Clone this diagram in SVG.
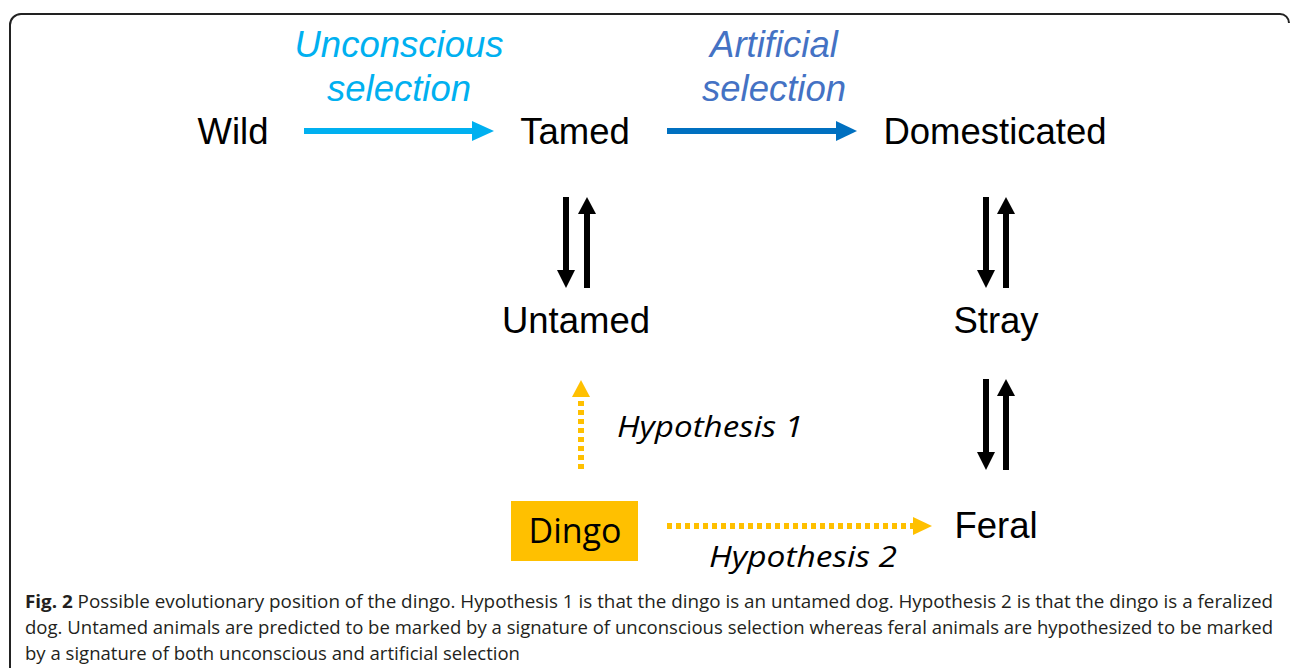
<svg xmlns="http://www.w3.org/2000/svg" width="1290" height="668" viewBox="0 0 1290 668">
<defs>
<style>
.node{font-family:"Liberation Sans",Arial,sans-serif;font-size:36.5px;fill:#000;text-anchor:middle}
.sel{font-family:"Liberation Sans",Arial,sans-serif;font-size:36.5px;font-style:italic;text-anchor:middle}
.hyp{font-family:"Open Sans",sans-serif;font-size:30px;font-style:italic;fill:#000}
.cap{font-family:"Open Sans","Liberation Sans",sans-serif;font-size:18.5px;fill:#231f20}
.blk{stroke:#000;stroke-width:6;fill:none}
.dot{stroke:#FFC000;stroke-width:6;fill:none;stroke-dasharray:5 4}
</style>
</defs>
<rect width="1290" height="668" fill="#fff"/>
<path d="M10,668 V25 A11,11 0 0 1 21,14 H1280 A9,9 0 0 1 1289,23" fill="none" stroke="#222" stroke-width="2"/>

<g id="label-unconscious">
<text class="sel" x="399" y="57" fill="#00B0F0">Unconscious</text>
<text class="sel" x="399" y="101" fill="#00B0F0">selection</text>
</g>
<g id="label-artificial">
<text class="sel" x="774" y="57" fill="#4472C4">Artificial</text>
<text class="sel" x="774" y="101" fill="#4472C4">selection</text>
</g>

<g id="node-wild"><text class="node" x="233" y="144">Wild</text></g>
<g id="node-tamed"><text class="node" x="575" y="144">Tamed</text></g>
<g id="node-domesticated"><text class="node" x="995" y="144">Domesticated</text></g>
<g id="node-untamed"><text class="node" x="576" y="333">Untamed</text></g>
<g id="node-stray"><text class="node" x="996" y="333">Stray</text></g>
<g id="node-feral"><text class="node" x="996" y="538">Feral</text></g>
<g id="node-dingo">
<rect x="511" y="501" width="127" height="60" fill="#FFC000"/>
<text x="575" y="543" font-family="'Open Sans',sans-serif" font-size="34" text-anchor="middle" fill="#000">Dingo</text>
</g>

<g id="connectors">
<line x1="304" y1="131" x2="474" y2="131" stroke="#00B0F0" stroke-width="6"/>
<polygon points="472,121 494,131 472,141" fill="#00B0F0"/>
<line x1="667" y1="131" x2="838" y2="131" stroke="#0070C0" stroke-width="6"/>
<polygon points="836,121 857,131 836,141" fill="#0070C0"/>

<line class="blk" x1="566" y1="197" x2="566" y2="272"/>
<polygon points="557,270 575,270 566,288" fill="#000"/>
<line class="blk" x1="587" y1="288" x2="587" y2="212"/>
<polygon points="578,214 596,214 587,197" fill="#000"/>

<line class="blk" x1="986" y1="197" x2="986" y2="272"/>
<polygon points="977,270 995,270 986,288" fill="#000"/>
<line class="blk" x1="1006" y1="288" x2="1006" y2="212"/>
<polygon points="997,214 1015,214 1006,197" fill="#000"/>

<line class="blk" x1="986" y1="379" x2="986" y2="454"/>
<polygon points="977,452 995,452 986,470" fill="#000"/>
<line class="blk" x1="1006" y1="470" x2="1006" y2="394"/>
<polygon points="997,396 1015,396 1006,379" fill="#000"/>

<line class="dot" x1="581" y1="469" x2="581" y2="398"/>
<polygon points="572,397 590,397 581,380" fill="#FFC000"/>
<line class="dot" x1="667" y1="526" x2="913" y2="526"/>
<polygon points="913,517 932,526 913,535" fill="#FFC000"/>
</g>

<g id="label-h1"><text class="hyp" x="617" y="437" textLength="186" lengthAdjust="spacingAndGlyphs">Hypothesis 1</text></g>
<g id="label-h2"><text class="hyp" x="709" y="567" textLength="188" lengthAdjust="spacingAndGlyphs">Hypothesis 2</text></g>

<g id="caption">
<text class="cap" x="25" y="608" textLength="1248" lengthAdjust="spacingAndGlyphs"><tspan font-weight="bold">Fig. 2</tspan> Possible evolutionary position of the dingo. Hypothesis 1 is that the dingo is an untamed dog. Hypothesis 2 is that the dingo is a feralized</text>
<text class="cap" x="25" y="634" textLength="1248" lengthAdjust="spacingAndGlyphs">dog. Untamed animals are predicted to be marked by a signature of unconscious selection whereas feral animals are hypothesized to be marked</text>
<text class="cap" x="25" y="660" textLength="495" lengthAdjust="spacingAndGlyphs">by a signature of both unconscious and artificial selection</text>
</g>
</svg>
